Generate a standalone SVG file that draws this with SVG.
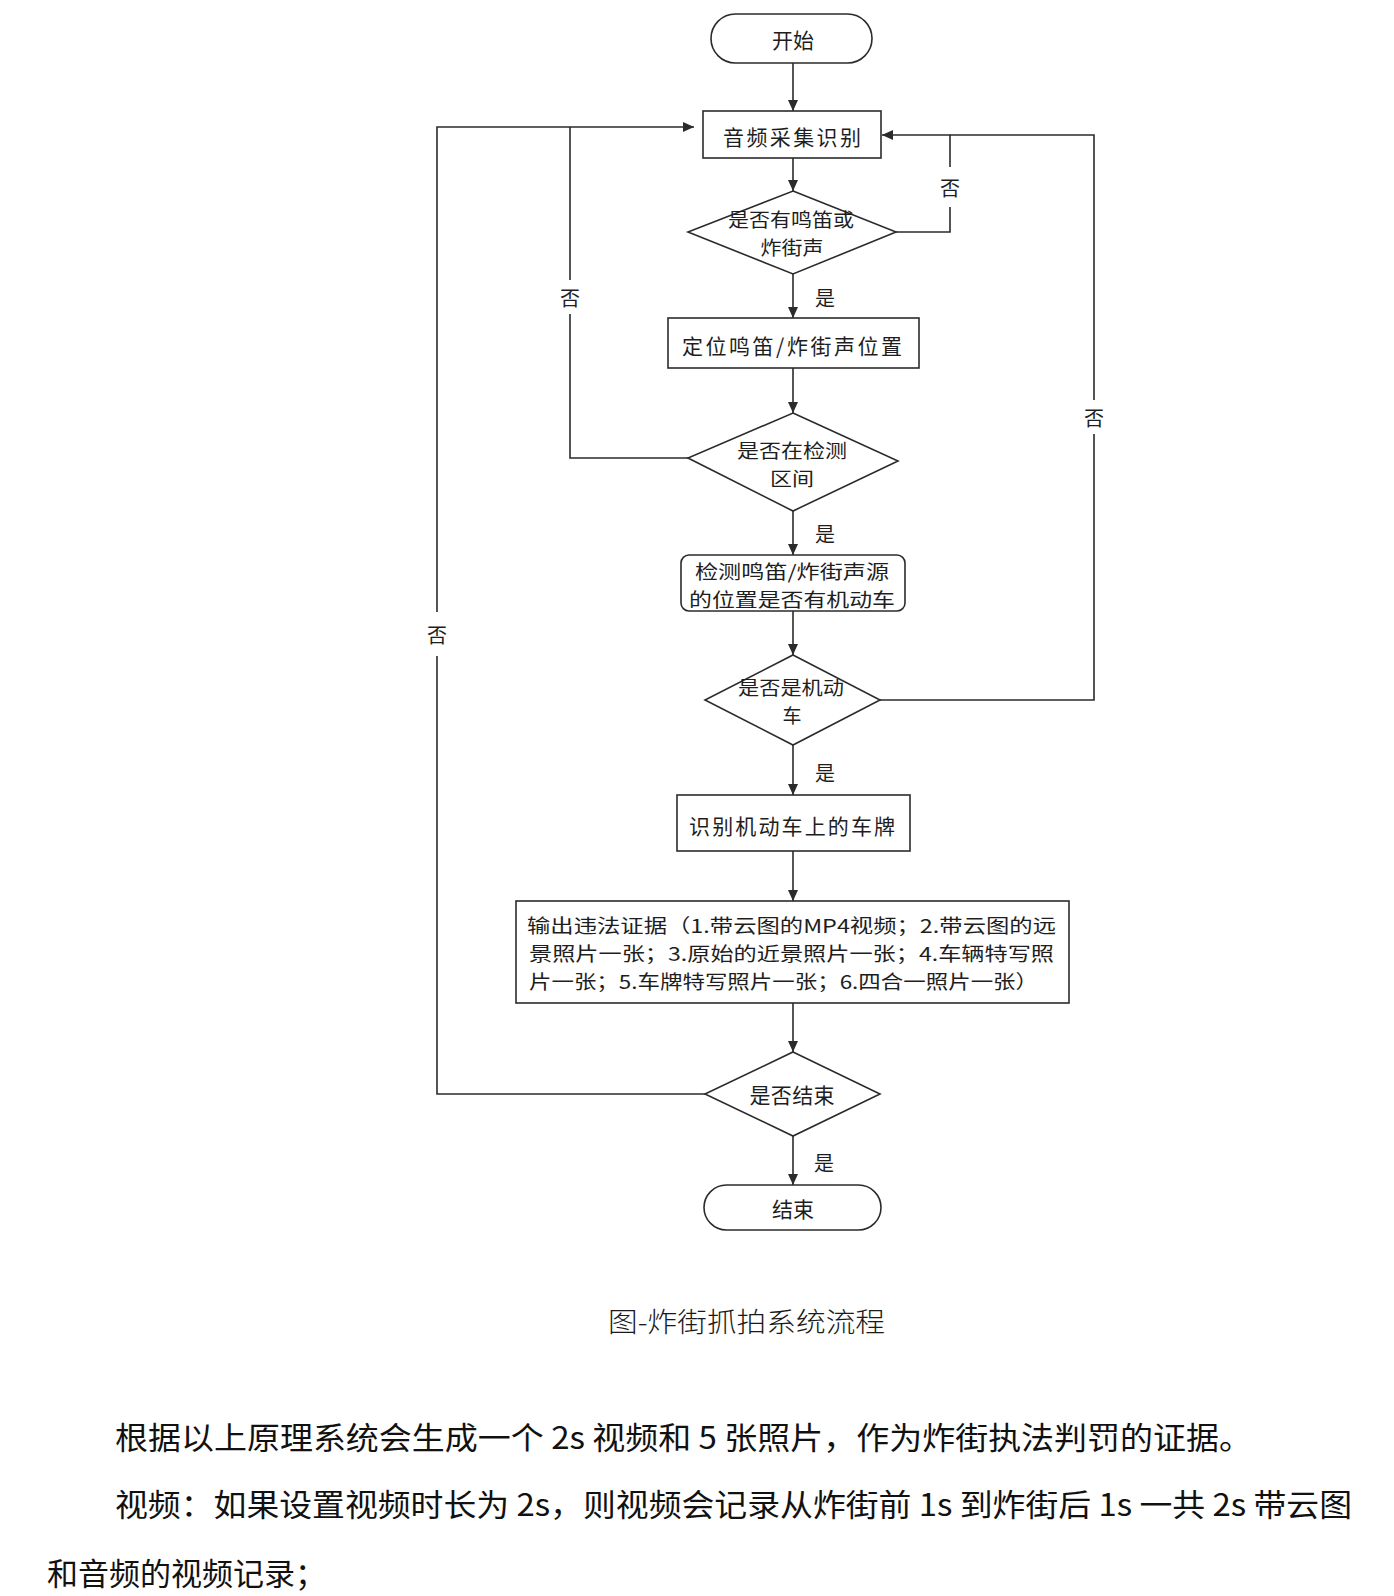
<svg xmlns="http://www.w3.org/2000/svg" width="1394" height="1596" viewBox="0 0 1394 1596">
<style>
  .shape { fill: #ffffff; stroke: #2b2b2b; stroke-width: 1.6; }
  .conn { fill: none; stroke: #2b2b2b; stroke-width: 1.6; }
  .t { font-family: "Noto Sans CJK SC", "Noto Sans", sans-serif; font-size: 21px; fill: #1e1e1e; text-anchor: middle; dominant-baseline: central; }
  .t2 { font-family: "Noto Sans CJK SC", "Noto Sans", sans-serif; font-size: 19px; fill: #1e1e1e; text-anchor: middle; dominant-baseline: central; }
  .tl { font-family: "Noto Sans CJK SC", "Noto Sans", sans-serif; font-size: 19px; fill: #1e1e1e; dominant-baseline: central; }
  .lab { font-family: "Noto Sans CJK SC", "Noto Sans", sans-serif; font-size: 20px; fill: #1e1e1e; text-anchor: middle; dominant-baseline: central; }
  .cap { font-family: "Noto Sans CJK SC", "Noto Sans", sans-serif; font-size: 27px; fill: #1a1a1a; dominant-baseline: central; font-weight: 300; }
  .para { font-family: "Noto Sans CJK SC", "Noto Sans", sans-serif; font-size: 31px; fill: #111111; dominant-baseline: central; font-weight: 400; }
</style>
<defs>
  <marker id="arr" markerWidth="12" markerHeight="10" refX="11" refY="5" orient="auto" markerUnits="userSpaceOnUse">
    <path d="M0,0 L11,5 L0,10 Z" fill="#2b2b2b"/>
  </marker>
</defs>
<rect width="1394" height="1596" fill="#ffffff"/>

<g id="connectors">
  <line class="conn" x1="793" y1="63" x2="793" y2="111" marker-end="url(#arr)"/>
  <line class="conn" x1="793" y1="158" x2="793" y2="191" marker-end="url(#arr)"/>
  <line class="conn" x1="793" y1="274" x2="793" y2="318" marker-end="url(#arr)"/>
  <line class="conn" x1="793" y1="368" x2="793" y2="413" marker-end="url(#arr)"/>
  <line class="conn" x1="793" y1="511" x2="793" y2="555" marker-end="url(#arr)"/>
  <line class="conn" x1="793" y1="611" x2="793" y2="655" marker-end="url(#arr)"/>
  <line class="conn" x1="793" y1="745" x2="793" y2="795" marker-end="url(#arr)"/>
  <line class="conn" x1="793" y1="851" x2="793" y2="901" marker-end="url(#arr)"/>
  <line class="conn" x1="793" y1="1003" x2="793" y2="1052" marker-end="url(#arr)"/>
  <line class="conn" x1="793" y1="1136" x2="793" y2="1185" marker-end="url(#arr)"/>
  <polyline class="conn" points="896,232 950,232 950,207"/>
  <polyline class="conn" points="950,167 950,135 882,135" marker-end="url(#arr)"/>
  <polyline class="conn" points="880,700 1094,700 1094,434"/>
  <polyline class="conn" points="1094,400 1094,135 950,135"/>
  <polyline class="conn" points="688,458 570,458 570,314"/>
  <line class="conn" x1="570" y1="280" x2="570" y2="127"/>
  <polyline class="conn" points="705,1094 437,1094 437,656"/>
  <polyline class="conn" points="437,612 437,127 694,127" marker-end="url(#arr)"/>
  <text class="lab" x="950" y="187">否</text>
  <text class="lab" x="1094" y="417">否</text>
  <text class="lab" x="570" y="297">否</text>
  <text class="lab" x="437" y="634">否</text>
  <text class="lab" x="825" y="297">是</text>
  <text class="lab" x="825" y="533">是</text>
  <text class="lab" x="825" y="772">是</text>
  <text class="lab" x="824" y="1162">是</text>
</g>

<g id="start">
  <rect class="shape" x="711" y="14" width="161" height="49" rx="24.5"/>
  <text class="t" x="793" y="39">开始</text>
</g>
<g id="audio">
  <rect class="shape" x="703" y="111" width="178" height="47"/>
  <text class="t" x="792" y="136" textLength="138">音频采集识别</text>
</g>
<g id="d1">
  <polygon class="shape" points="793,191 896,232 793,274 688,232"/>
  <text class="t2" x="791" y="218" textLength="126" lengthAdjust="spacingAndGlyphs">是否有鸣笛或</text>
  <text class="t2" x="792" y="246" textLength="63" lengthAdjust="spacingAndGlyphs">炸街声</text>
</g>
<g id="locate">
  <rect class="shape" x="668" y="318" width="251" height="50"/>
  <text class="t" x="792" y="345" textLength="220">定位鸣笛/炸街声位置</text>
</g>
<g id="d2">
  <polygon class="shape" points="793,413 898,461 793,511 688,458"/>
  <text class="t2" x="792" y="449" textLength="110" lengthAdjust="spacingAndGlyphs">是否在检测</text>
  <text class="t2" x="792" y="477" textLength="44" lengthAdjust="spacingAndGlyphs">区间</text>
</g>
<g id="detect">
  <rect class="shape" x="681" y="555" width="224" height="56" rx="8"/>
  <text class="t2" x="792" y="570" textLength="194" lengthAdjust="spacingAndGlyphs">检测鸣笛/炸街声源</text>
  <text class="t2" x="792" y="598" textLength="206" lengthAdjust="spacingAndGlyphs">的位置是否有机动车</text>
</g>
<g id="d3">
  <polygon class="shape" points="793,655 880,700 793,745 705,700"/>
  <text class="t2" x="791" y="686" textLength="106" lengthAdjust="spacingAndGlyphs">是否是机动</text>
  <text class="t2" x="792" y="714">车</text>
</g>
<g id="plate">
  <rect class="shape" x="677" y="795" width="233" height="56"/>
  <text class="t" x="792" y="825" textLength="206">识别机动车上的车牌</text>
</g>
<g id="output">
  <rect class="shape" x="516" y="901" width="553" height="102"/>
  <text class="tl" x="527" y="924" textLength="529" lengthAdjust="spacingAndGlyphs">输出违法证据（1.带云图的MP4视频；2.带云图的远</text>
  <text class="tl" x="529" y="952" textLength="525" lengthAdjust="spacingAndGlyphs">景照片一张；3.原始的近景照片一张；4.车辆特写照</text>
  <text class="tl" x="529" y="980" textLength="509" lengthAdjust="spacingAndGlyphs">片一张；5.车牌特写照片一张；6.四合一照片一张）</text>
</g>
<g id="d5">
  <polygon class="shape" points="793,1052 880,1094 793,1136 705,1094"/>
  <text class="t" x="792" y="1094" textLength="85">是否结束</text>
</g>
<g id="end">
  <rect class="shape" x="704" y="1185" width="177" height="45" rx="22.5"/>
  <text class="t" x="793" y="1208">结束</text>
</g>

<text class="cap" x="608" y="1320" textLength="277" lengthAdjust="spacingAndGlyphs">图-炸街抓拍系统流程</text>
<text class="para" x="115" y="1435" textLength="1137" lengthAdjust="spacingAndGlyphs">根据以上原理系统会生成一个 2s 视频和 5 张照片，作为炸街执法判罚的证据。</text>
<text class="para" x="115" y="1502" textLength="1237" lengthAdjust="spacingAndGlyphs">视频：如果设置视频时长为 2s，则视频会记录从炸街前 1s 到炸街后 1s 一共 2s 带云图</text>
<text class="para" x="47" y="1571" textLength="279" lengthAdjust="spacingAndGlyphs">和音频的视频记录；</text>
</svg>
